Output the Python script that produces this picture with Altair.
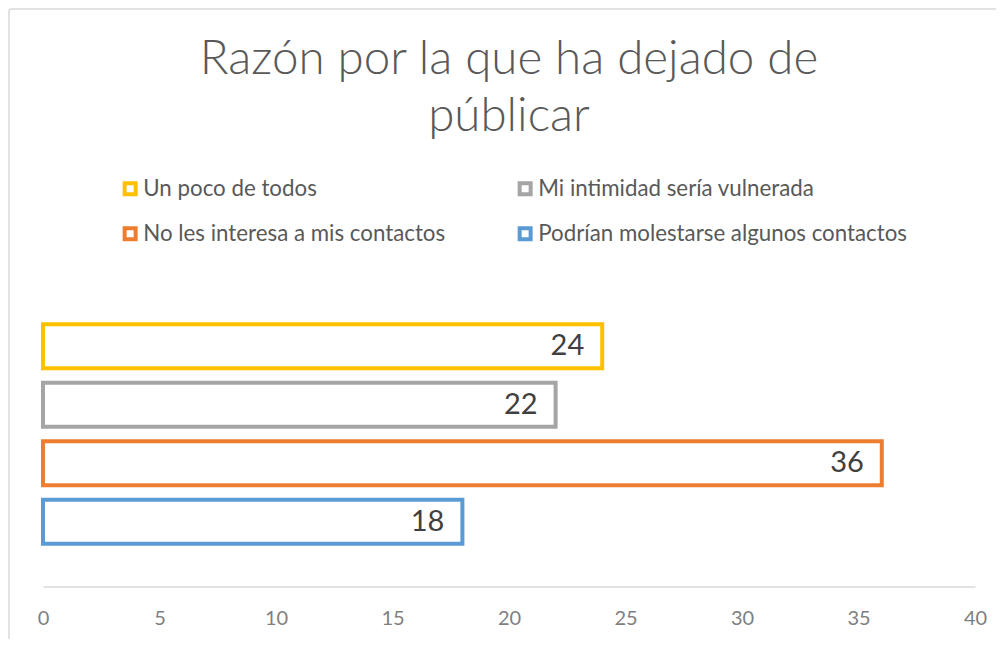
import altair as alt
import pandas as pd

categories = ["Un poco de todos", "Mi intimidad sería vulnerada",
              "No les interesa a mis contactos", "Podrían molestarse algunos contactos"]
values = [24, 22, 36, 18]
colors = ["#FFC000", "#A5A5A5", "#ED7D31", "#5B9BD5"]
x_ticks = [0, 5, 10, 15, 20, 25, 30, 35, 40]

df = pd.DataFrame({"cat": categories, "val": values})

FONT = "Lato"
W, H = 932, 305

color_scale = alt.Scale(domain=categories, range=colors)
y_enc = alt.Y("cat:N", sort=categories, axis=None,
              scale=alt.Scale(paddingInner=0.25, paddingOuter=0.73))

bars = alt.Chart(df).mark_bar(fill="white", strokeWidth=4).encode(
    x=alt.X("val:Q", scale=alt.Scale(domain=[0, 40], nice=False),
            axis=alt.Axis(values=x_ticks, title=None, grid=False, ticks=False,
                          domainColor="#D9D9D9", domainWidth=1.5,
                          labelColor="#7F7F7F", labelFontSize=20, labelFont=FONT,
                          labelPadding=22, labelFlush=False)),
    y=y_enc,
    stroke=alt.Stroke("cat:N", scale=color_scale, sort=categories,
                      legend=alt.Legend(title=None, orient="none", legendX=76, legendY=-104,
                                        direction="horizontal",
                                        columns=2, columnPadding=65, rowPadding=17,
                                        symbolType="square", symbolSize=121,
                                        symbolStrokeWidth=4, symbolFillColor="white",
                                        labelFont=FONT, labelFontSize=22.3,
                                        labelColor="#595959", labelOffset=2,
                                        labelLimit=400)),
)

labels = alt.Chart(df).mark_text(align="right", baseline="middle", dx=-18,
                                 fontSize=29, font=FONT, color="#404040").encode(
    x=alt.X("val:Q"),
    y=y_enc,
    text=alt.Text("val:Q"),
)

border = alt.Chart(alt.Data(values=[{}])).mark_rect(
    fill=None, stroke="#D9D9D9", strokeWidth=1.5, cornerRadius=3).encode(
    x=alt.value(-34), x2=alt.value(990), y=alt.value(-272.5), y2=alt.value(380))

chart = alt.layer(border, bars, labels).properties(
    width=W, height=H,
    title=alt.TitleParams(text=["Razón por la que ha dejado de", "públicar"],
                          anchor="middle", frame="group", fontSize=47.5, font=FONT,
                          fontWeight=300, color="#595959", lineHeight=57,
                          offset=-132),
    autosize=alt.AutoSizeParams(type="none"),
    padding={"left": 35, "top": 273.5, "right": 21, "bottom": 52},
).configure_view(stroke=None)

chart.save("out.html", embed_options={"renderer": "svg", "actions": False})
